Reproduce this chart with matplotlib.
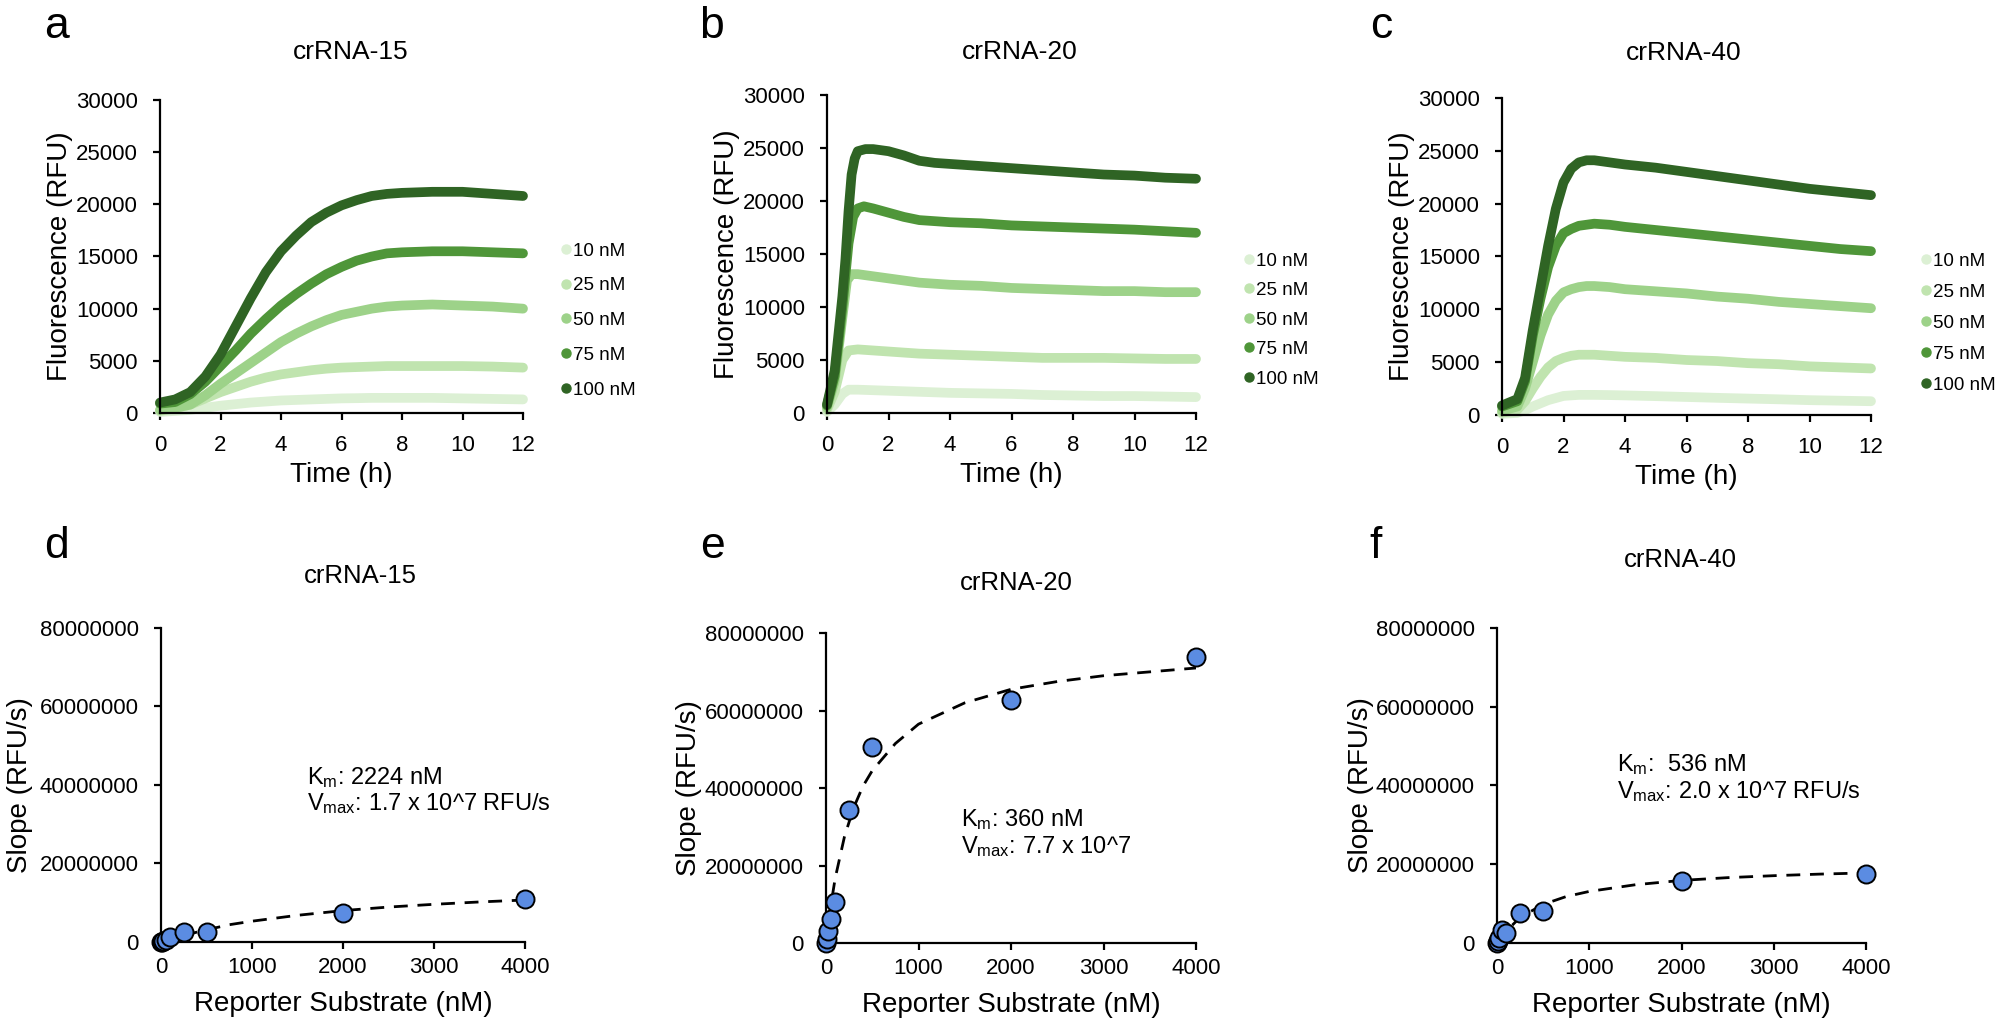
import numpy as np
import matplotlib
matplotlib.use("Agg")
import matplotlib.pyplot as plt
from matplotlib.lines import Line2D
from matplotlib.ticker import FuncFormatter

plt.rcParams['font.family'] = ['Liberation Sans', 'DejaVu Sans']
plt.rcParams['mathtext.fontset'] = 'custom'
plt.rcParams['mathtext.rm'] = 'Liberation Sans'
plt.rcParams['mathtext.it'] = 'Liberation Sans'

# ---------------------------------------------------------------
# Data
# ---------------------------------------------------------------
CONC_LABELS = ["10 nM", "25 nM", "50 nM", "75 nM", "100 nM"]
CONC_COLORS = ["#dcf0d4", "#c0e4af", "#9dd289", "#4f9639", "#2f6424"]

# crRNA-15 (panel a)
t_a = [0, 0.5, 1, 1.5, 2, 2.5, 3, 3.5, 4, 4.5, 5, 5.5, 6, 6.5, 7, 7.5, 8, 9, 10, 11, 12]
a_10 = [100, 200, 300, 500, 700, 850, 1000, 1100, 1200, 1250, 1300, 1350, 1400, 1420, 1450, 1450, 1450, 1450, 1400, 1350, 1300]
a_25 = [200, 450, 800, 1400, 2000, 2500, 3000, 3400, 3700, 3900, 4100, 4250, 4350, 4400, 4450, 4500, 4500, 4500, 4500, 4450, 4350]
a_50 = [300, 500, 800, 1700, 2800, 3800, 4800, 5800, 6800, 7600, 8300, 8900, 9400, 9700, 10000, 10200, 10300, 10400, 10300, 10200, 10000]
a_75 = [900, 1050, 1800, 3000, 4500, 6000, 7600, 9000, 10300, 11400, 12400, 13300, 14000, 14600, 15000, 15300, 15400, 15500, 15500, 15400, 15300]
a_100 = [1000, 1300, 2000, 3500, 5600, 8300, 11000, 13500, 15500, 17000, 18300, 19200, 19900, 20400, 20800, 21000, 21100, 21200, 21200, 21000, 20800]

# crRNA-20 (panel b)
t_b100 = [0, 0.25, 0.5, 0.6, 0.7, 0.8, 0.9, 1.0, 1.25, 1.5, 2, 2.5, 3, 3.5, 4, 5, 6, 7, 8, 9, 10, 11, 12]
b_100 = [800, 4000, 11000, 14500, 19000, 22500, 24000, 24700, 24900, 24900, 24700, 24300, 23800, 23600, 23500, 23300, 23100, 22900, 22700, 22500, 22400, 22200, 22100]
t_b75 = [0, 0.25, 0.5, 0.7, 0.85, 1.0, 1.2, 1.5, 2, 2.5, 3, 4, 5, 6, 7, 8, 9, 10, 11, 12]
b_75 = [700, 3500, 10000, 16000, 18500, 19300, 19500, 19300, 18900, 18500, 18200, 18000, 17900, 17700, 17600, 17500, 17400, 17300, 17150, 17000]
t_b50 = [0, 0.25, 0.5, 0.65, 0.8, 1, 1.5, 2, 3, 4, 5, 6, 7, 8, 9, 10, 11, 12]
b_50 = [500, 3000, 9000, 12500, 13100, 13100, 12900, 12700, 12300, 12100, 12000, 11800, 11700, 11600, 11500, 11500, 11400, 11400]
t_blow = [0, 0.25, 0.5, 0.7, 1, 2, 3, 4, 5, 6, 7, 8, 9, 10, 11, 12]
b_25 = [300, 2000, 5000, 5900, 6000, 5800, 5600, 5500, 5400, 5300, 5200, 5200, 5200, 5150, 5100, 5100]
b_10 = [100, 800, 1800, 2200, 2200, 2100, 2000, 1900, 1850, 1800, 1700, 1650, 1600, 1600, 1550, 1500]

# crRNA-40 (panel c)
t_c = [0, 0.5, 0.75, 1, 1.25, 1.5, 1.75, 2, 2.25, 2.5, 2.75, 3, 3.5, 4, 5, 6, 7, 8, 9, 10, 11, 12]
c_10 = [100, 200, 450, 800, 1100, 1400, 1600, 1800, 1850, 1900, 1900, 1900, 1880, 1850, 1780, 1700, 1620, 1550, 1480, 1400, 1350, 1300]
c_25 = [200, 500, 1300, 2500, 3600, 4500, 5100, 5400, 5600, 5700, 5700, 5700, 5600, 5500, 5400, 5200, 5100, 4900, 4800, 4600, 4500, 4400]
c_50 = [400, 800, 2500, 5000, 7500, 9500, 10800, 11600, 11900, 12100, 12200, 12200, 12100, 11900, 11700, 11500, 11200, 11000, 10700, 10500, 10300, 10100]
c_75 = [800, 1300, 3200, 7500, 11000, 14000, 16000, 17200, 17600, 17900, 18000, 18100, 18000, 17800, 17500, 17200, 16900, 16600, 16300, 16000, 15700, 15500]
c_100 = [900, 1500, 3500, 8000, 12000, 16000, 19500, 22000, 23300, 23900, 24100, 24100, 23900, 23700, 23400, 23000, 22600, 22200, 21800, 21400, 21100, 20800]

# Michaelis-Menten panels (d, e, f)
substrate = [0, 10, 25, 50, 100, 250, 500, 2000, 4000]
slope_15 = [0, 0.1e6, 0.3e6, 0.6e6, 1.3e6, 2.5e6, 2.5e6, 7.4e6, 1.1e7]
slope_20 = [0, 1.0e6, 3.0e6, 6.2e6, 1.05e7, 3.43e7, 5.06e7, 6.27e7, 7.38e7]
slope_40 = [0, 0.4e6, 1.2e6, 3.4e6, 2.6e6, 7.6e6, 8.1e6, 1.57e7, 1.75e7]

fit_x_15 = [0, 100, 250, 500, 750, 1000, 1500, 2000, 2500, 3000, 3500, 4000]
fit_y_15 = [0, 0.7e6, 1.7e6, 3.1e6, 4.4e6, 5.3e6, 6.8e6, 8.0e6, 8.9e6, 9.6e6, 10.2e6, 10.7e6]
fit_x_20 = [0, 25, 50, 100, 200, 300, 400, 500, 750, 1000, 1500, 2000, 2500, 3000, 3500, 4000]
fit_y_20 = [0, 0.49e7, 0.94e7, 1.68e7, 2.75e7, 3.5e7, 4.05e7, 4.45e7, 5.15e7, 5.65e7, 6.2e7, 6.55e7, 6.75e7, 6.9e7, 7.0e7, 7.1e7]
fit_x_40 = [0, 100, 250, 500, 750, 1000, 1500, 2000, 2500, 3000, 3500, 4000]
fit_y_40 = [0, 3.0e6, 6.5e6, 9.8e6, 11.8e6, 13.1e6, 14.8e6, 15.9e6, 16.6e6, 17.1e6, 17.5e6, 17.8e6]

KM_TEXT = {
    "15": ("K$_{\\mathrm{m}}$: 2224 nM", "V$_{\\mathrm{max}}$: 1.7 x 10^7 RFU/s"),
    "20": ("K$_{\\mathrm{m}}$: 360 nM", "V$_{\\mathrm{max}}$: 7.7 x 10^7"),
    "40": ("K$_{\\mathrm{m}}$:  536 nM", "V$_{\\mathrm{max}}$: 2.0 x 10^7 RFU/s"),
}

W, H = 2000, 1033
TICK_FS = 16
LABEL_FS = 20
LETTER_FS = 32


def px(x, y):
    """pixel position (from top-left) -> figure fraction"""
    return x / W, 1 - y / H


def style_axis(ax):
    for side in ("top", "right"):
        ax.spines[side].set_visible(False)
    for side in ("left", "bottom"):
        ax.spines[side].set_linewidth(1.6)
    ax.tick_params(direction="out", length=5, width=1.6, labelsize=TICK_FS)
    ax.tick_params(axis="y", pad=11)
    ax.tick_params(axis="x", pad=11)
    ax.yaxis.set_major_formatter(FuncFormatter(lambda v, p: f"{int(round(v))}"))


def plot_kinetics(rect, series, title, letter, title_xy, letter_xy, leg_anchor, leg_spacing):
    ax = fig.add_axes(rect)
    for (t, vals), color in zip(series, CONC_COLORS):
        ax.plot(t, vals, color=color, lw=7, solid_capstyle="round",
                solid_joinstyle="round", clip_on=False)
    ax.set_xlim(0, 12)
    ax.set_ylim(0, 30000)
    ax.set_xticks(range(0, 13, 2))
    ax.set_yticks(range(0, 30001, 5000))
    style_axis(ax)
    ax.set_xlabel("Time (h)", fontsize=LABEL_FS, labelpad=4)
    ax.set_ylabel("Fluorescence (RFU)", fontsize=LABEL_FS, labelpad=2)

    handles = [Line2D([], [], marker="o", linestyle="", markersize=6.5,
                      color=c) for c in CONC_COLORS]
    ax.legend(handles, CONC_LABELS, loc="upper left", bbox_to_anchor=leg_anchor,
              frameon=False, fontsize=13.5, handlelength=0.4, handletextpad=0.15,
              labelspacing=leg_spacing, borderpad=0, borderaxespad=0)

    fig.text(*px(*title_xy), title, fontsize=19, ha="center", va="center")
    fig.text(*px(*letter_xy), letter, fontsize=LETTER_FS, ha="center", va="baseline")
    return ax


def plot_mm(rect, x, y, fx, fy, title, letter, title_xy, letter_xy, km_lines, km_pos, ylabpad):
    ax = fig.add_axes(rect)
    ax.plot(fx, fy, color="black", lw=2, linestyle=(0, (5, 3.5)), zorder=2)
    ax.plot(x, y, linestyle="", marker="o", markersize=13, markerfacecolor="#5b8ce2",
            markeredgecolor="black", markeredgewidth=1.4, zorder=3, clip_on=False)
    ax.set_xlim(0, 4000)
    ax.set_ylim(0, 8e7)
    ax.set_xticks(range(0, 4001, 1000))
    ax.set_yticks(np.arange(0, 8.01e7, 2e7))
    style_axis(ax)
    ax.tick_params(axis="x", pad=6)
    ax.set_xlabel("Reporter Substrate (nM)", fontsize=LABEL_FS, labelpad=9)
    ax.set_ylabel("Slope (RFU/s)", fontsize=LABEL_FS, labelpad=ylabpad)

    ax.text(km_pos[0], km_pos[1], km_lines[0], transform=ax.transAxes,
            fontsize=17, va="center", ha="left")
    ax.text(km_pos[0], km_pos[1] - 0.085, km_lines[1], transform=ax.transAxes,
            fontsize=17, va="center", ha="left")

    fig.text(*px(*title_xy), title, fontsize=18.5, ha="center", va="center")
    fig.text(*px(*letter_xy), letter, fontsize=LETTER_FS, ha="center", va="baseline")
    return ax


fig = plt.figure(figsize=(W / 100, H / 100), dpi=100)

# top row: fluorescence time courses
plot_kinetics([0.080, 0.6002, 0.1815, 0.303],
              [(t_a, a_10), (t_a, a_25), (t_a, a_50), (t_a, a_75), (t_a, a_100)],
              "crRNA-15", "a", (351, 52), (56, 38), (1.109, 0.545), 0.94)
plot_kinetics([0.4135, 0.6002, 0.1845, 0.3078],
              [(t_blow, b_10), (t_blow, b_25), (t_b50, b_50), (t_b75, b_75), (t_b100, b_100)],
              "crRNA-20", "b", (1020, 52), (712, 38), (1.134, 0.505), 0.66)
plot_kinetics([0.751, 0.5983, 0.1845, 0.3069],
              [(t_c, c_10), (t_c, c_25), (t_c, c_50), (t_c, c_75), (t_c, c_100)],
              "crRNA-40", "c", (1684, 53), (1381, 38), (1.14, 0.512), 0.74)

# bottom row: Michaelis-Menten plots
plot_mm([0.0805, 0.0881, 0.182, 0.304], substrate, slope_15, fit_x_15, fit_y_15,
        "crRNA-15", "d", (360, 576), (56, 558), KM_TEXT["15"], (0.40, 0.525), 5)
plot_mm([0.413, 0.0871, 0.185, 0.300], substrate, slope_20, fit_x_20, fit_y_20,
        "crRNA-20", "e", (1016, 583), (712, 558), KM_TEXT["20"], (0.365, 0.397), 2)
plot_mm([0.7485, 0.0871, 0.1845, 0.305], substrate, slope_40, fit_x_40, fit_y_40,
        "crRNA-40", "f", (1680, 560), (1376, 558), KM_TEXT["40"], (0.325, 0.565), 1)

fig.savefig("out.png", dpi=100)
